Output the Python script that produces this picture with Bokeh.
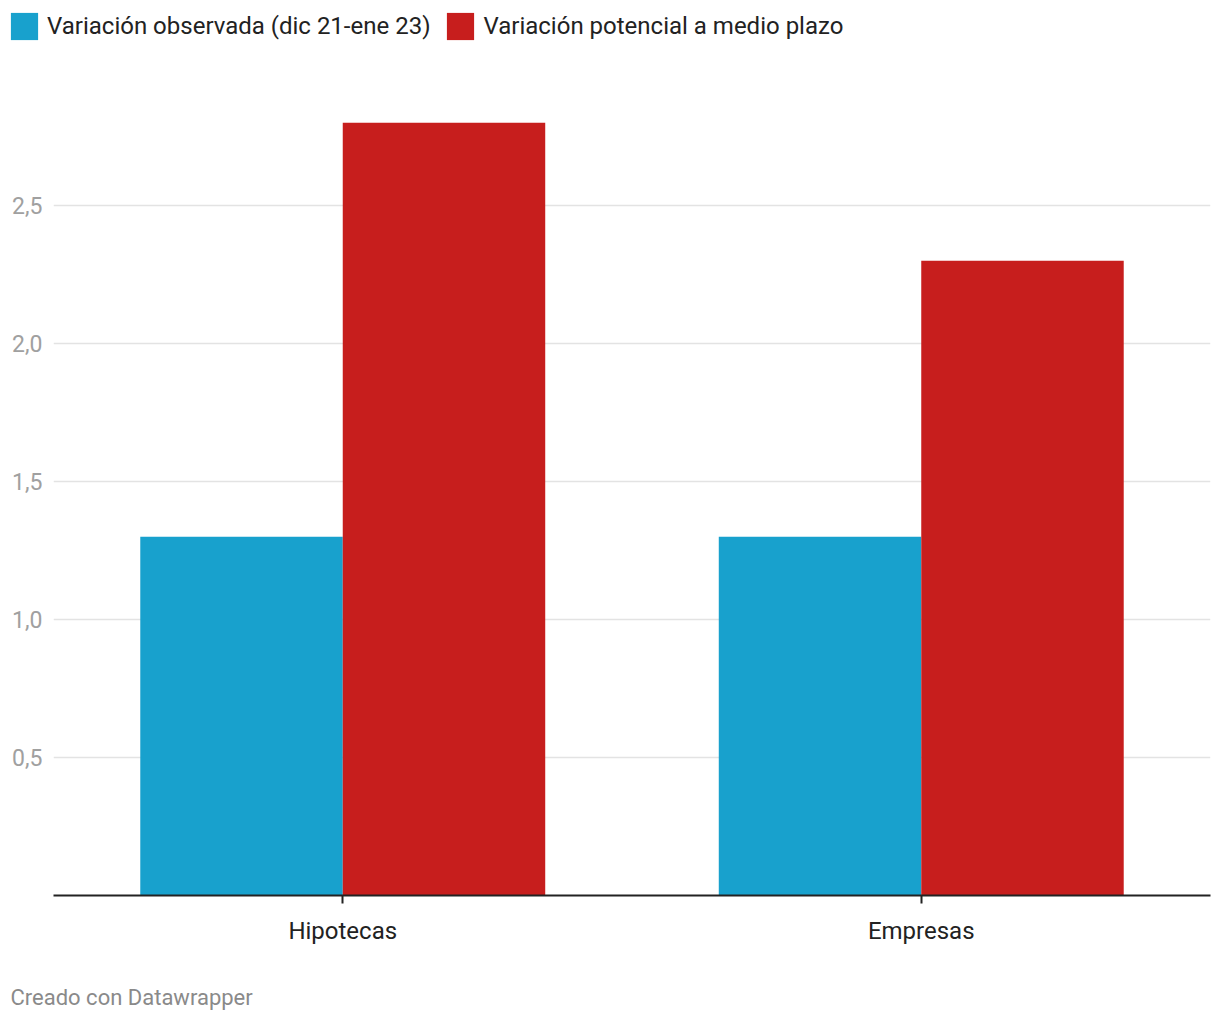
from bokeh.plotting import figure
from bokeh.models import FactorRange, Legend, LegendItem, FixedTicker, Label, ColumnDataSource
from bokeh.transform import dodge
from bokeh.layouts import column
from bokeh.embed import file_html
from bokeh.resources import INLINE

categories = ["Hipotecas", "Empresas"]
series_names = ["Variación observada (dic 21-ene 23)", "Variación potencial a medio plazo"]
observada = [1.3, 1.3]
potencial = [2.8, 2.3]
colors = ["#18a1cd", "#c71e1d"]
y_ticks = [0.5, 1.0, 1.5, 2.0, 2.5]
y_tick_labels = ["0,5", "1,0", "1,5", "2,0", "2,5"]
footer = "Creado con Datawrapper"

W = 1212

# ---- legend strip ----
pl = figure(width=W, height=52, x_range=(0, 1), y_range=(0, 1), output_backend="svg",
            toolbar_location=None, x_axis_type=None, y_axis_type=None,
            min_border=0, frame_align=False)
pl.outline_line_color = None
pl.xgrid.visible = False
pl.ygrid.visible = False
# legend swatches only (kept outside the visible range of this strip)
lr1 = pl.vbar(x=[5], top=[1], width=0.1, fill_color=colors[0], line_color=None)
lr2 = pl.vbar(x=[5], top=[1], width=0.1, fill_color=colors[1], line_color=None)
legend = Legend(items=[LegendItem(label=series_names[0], renderers=[lr1]),
                       LegendItem(label=series_names[1], renderers=[lr2])],
                orientation="horizontal", location=(7, 9),
                glyph_width=34, glyph_height=34, label_height=34,
                label_standoff=6, spacing=13, padding=0, margin=0,
                label_text_font="Roboto", label_text_font_size="24px",
                label_text_color="#222222", label_text_baseline="middle",
                border_line_color=None, background_fill_alpha=0)
pl.add_layout(legend, "center")

# ---- main chart ----
src = ColumnDataSource(dict(cat=categories, obs=observada, pot=potencial))

p = figure(x_range=FactorRange(*categories, range_padding=0), y_range=(0, 3.0),
           width=W, height=898, output_backend="svg", toolbar_location=None,
           min_border_left=53, min_border_right=2, min_border_top=15, min_border_bottom=55)
p.outline_line_color = None

p.vbar(x=dodge("cat", -0.175, range=p.x_range), top="obs", width=0.35, source=src,
       fill_color=colors[0], line_color=None)
p.vbar(x=dodge("cat", 0.175, range=p.x_range), top="pot", width=0.35, source=src,
       fill_color=colors[1], line_color=None)

p.xgrid.grid_line_color = None
p.ygrid.grid_line_color = "#e3e3e3"
p.ygrid.grid_line_width = 1.5
p.ygrid.ticker = FixedTicker(ticks=y_ticks)

p.yaxis.ticker = FixedTicker(ticks=y_ticks)
p.yaxis.major_label_overrides = {t: l for t, l in zip(y_ticks, y_tick_labels)}
p.yaxis.axis_line_color = None
p.yaxis.major_tick_line_color = None
p.yaxis.minor_tick_line_color = None
p.yaxis.major_label_text_font = "Roboto"
p.yaxis.major_label_text_font_size = "23px"
p.yaxis.major_label_text_color = "#a0a0a0"
p.yaxis.major_label_standoff = 5

p.xaxis.axis_line_color = "#222222"
p.xaxis.axis_line_width = 2
p.xaxis.major_tick_line_color = "#222222"
p.xaxis.major_tick_line_width = 2
p.xaxis.major_tick_out = 8
p.xaxis.major_tick_in = 0
p.xaxis.minor_tick_line_color = None
p.xaxis.major_label_text_font = "Roboto"
p.xaxis.major_label_text_font_size = "24px"
p.xaxis.major_label_text_color = "#222222"
p.xaxis.major_label_standoff = 13

# ---- footer strip ----
pf = figure(width=W, height=62, x_range=(0, 1), y_range=(0, 1), output_backend="svg",
            toolbar_location=None, x_axis_type=None, y_axis_type=None, min_border=0,
            frame_align=False)
pf.outline_line_color = None
pf.xgrid.visible = False
pf.ygrid.visible = False
pf.add_layout(Label(x=10, y=15, x_units="screen", y_units="screen", text=footer,
                    text_font="Roboto", text_font_size="22px", text_color="#8a8a8a",
                    text_baseline="middle"))

layout = column(pl, p, pf, spacing=0)
open("out.html", "w").write(file_html(layout, INLINE))
